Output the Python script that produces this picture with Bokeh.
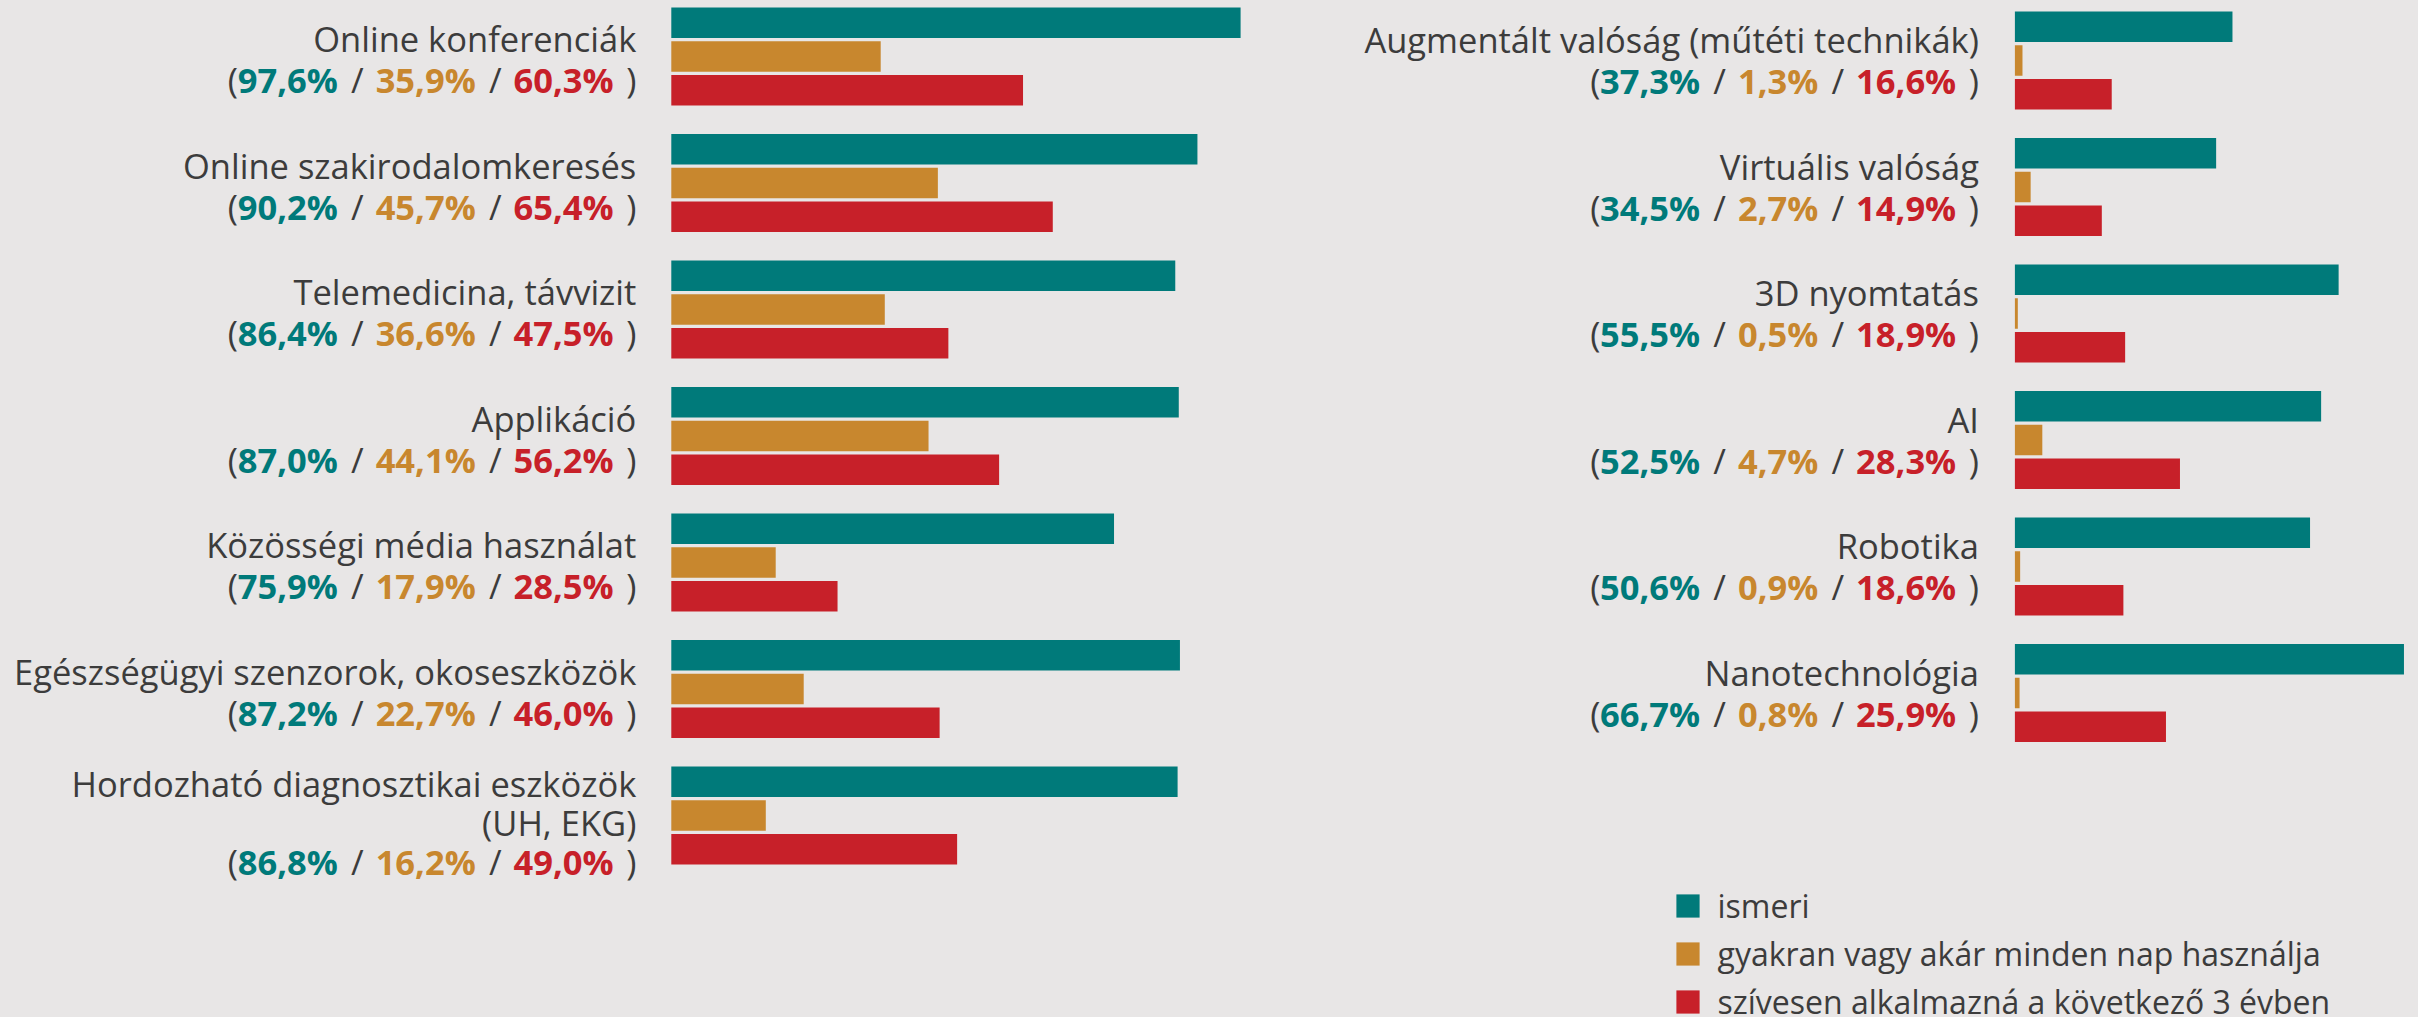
import numpy as np
from bokeh.plotting import figure
from bokeh.models import Range1d, ColumnDataSource, Legend, LegendItem
from bokeh.core.properties import value
from bokeh.embed import file_html
from bokeh.resources import INLINE

# ---------------- data ----------------
left_cats = [
    "Online konferenciák",
    "Online szakirodalomkeresés",
    "Telemedicina, távvizit",
    "Applikáció",
    "Közösségi média használat",
    "Egészségügyi szenzorok, okoseszközök",
    "Hordozható diagnosztikai eszközök\n(UH, EKG)",
]
left_known = [97.6, 90.2, 86.4, 87.0, 75.9, 87.2, 86.8]
left_daily = [35.9, 45.7, 36.6, 44.1, 17.9, 22.7, 16.2]
left_future = [60.3, 65.4, 47.5, 56.2, 28.5, 46.0, 49.0]

right_cats = [
    "Augmentált valóság (műtéti technikák)",
    "Virtuális valóság",
    "3D nyomtatás",
    "AI",
    "Robotika",
    "Nanotechnológia",
]
right_known = [37.3, 34.5, 55.5, 52.5, 50.6, 66.7]
right_daily = [1.3, 2.7, 0.5, 4.7, 0.9, 0.8]
right_future = [16.6, 14.9, 18.9, 28.3, 18.6, 25.9]

series_labels = [
    "ismeri",
    "gyakran vagy akár minden nap használja",
    "szívesen alkalmazná a következő 3 évben",
]

# ---------------- style ----------------
BG = "#e8e6e6"
TEAL = "#007a7a"
ORANGE = "#c8872e"
RED = "#c72029"
GRAY = "#3c3c3c"
FONT = "Open Sans"
FS = 34.5        # px, label font size
FS_LEG = 32

W, H = 2418, 1017
SX = 5.833       # px per percent
PY = 126.5       # px per row
L_X0, R_X0 = 670.8, 2014.4   # bar origins (px)
L_Y0, R_Y0 = 56.0, 60.0      # centre of first group (px)
TEXT_SHIFT = -12.0           # px, vertical correction of text baselines

p = figure(width=W, height=H, output_backend="svg", toolbar_location=None,
           x_range=Range1d(-L_X0 / SX, (W - L_X0) / SX),
           y_range=Range1d((H - L_Y0) / PY, -L_Y0 / PY),
           x_axis_location=None, y_axis_location=None, min_border=0)
p.extra_x_ranges = {"r": Range1d(-R_X0 / SX, (W - R_X0) / SX)}
p.extra_y_ranges = {"r": Range1d((H - R_Y0) / PY, -R_Y0 / PY)}
p.grid.visible = False
p.outline_line_color = None
p.background_fill_color = BG
p.border_fill_color = BG

BAR_H = 30.5 / PY
DODGE = 33.8 / PY

# approx. Open Sans Bold advance widths (em)
CW = {",": 0.27, "%": 0.88}


def num_w(s):
    return sum(CW.get(ch, 0.572) for ch in s) * FS


def fmt(v):
    return f"{v:.1f}".replace(".", ",") + "%"


panels = [
    dict(cats=left_cats, vals=(left_known, left_daily, left_future), xr="default", yr="default",
         edge=-35.0, off=14.5 + TEXT_SHIFT),
    dict(cats=right_cats, vals=(right_known, right_daily, right_future), xr="r", yr="r",
         edge=-36.0, off=11.5 + TEXT_SHIFT),
]

colors = [TEAL, ORANGE, RED]
dodges = [-DODGE, 0.0, DODGE]
legend_renderers = []

for pi, pan in enumerate(panels):
    idx = np.arange(len(pan["cats"]))
    for si, (vals, col, dg) in enumerate(zip(pan["vals"], colors, dodges)):
        r = p.hbar(y=idx + dg, left=0, right=vals, height=BAR_H, fill_color=col,
                   line_color=None, x_range_name=pan["xr"], y_range_name=pan["yr"])
        if pi == 0:
            legend_renderers.append(r)

    name_x, name_y, name_t = [], [], []
    num_x, num_y, num_t, num_c = [], [], [], []
    pun_x, pun_y, pun_t, pun_a = [], [], [], []
    edge = pan["edge"]
    for i, cat in enumerate(pan["cats"]):
        lines = cat.split("\n")
        L = len(lines) + 1
        LS = 41.0 if L == 2 else 38.9
        off = pan["off"] + (L - 2) * 4.4
        bases = [off + (k - (L - 1) / 2) * LS for k in range(L)]
        for k, ln in enumerate(lines):
            name_x.append(edge / SX)
            name_y.append(i + bases[k] / PY)
            name_t.append(ln)
        yb = i + bases[-1] / PY
        t1, t2, t3 = (fmt(v[i]) for v in pan["vals"])
        red_r = edge - 22.7
        red_l = red_r - num_w(t3)
        or_r = red_l - 39.0
        or_l = or_r - num_w(t2)
        te_r = or_l - 39.0
        te_l = te_r - num_w(t1)
        for xx, tt, cc in ((te_r, t1, TEAL), (or_r, t2, ORANGE), (red_r, t3, RED)):
            num_x.append(xx / SX); num_y.append(yb); num_t.append(tt); num_c.append(cc)
        for xx, tt, aa in ((te_l - 1.0, "(", "right"), ((te_r + or_l) / 2, "/", "center"),
                           ((or_r + red_l) / 2, "/", "center"), (edge, ")", "right")):
            pun_x.append(xx / SX); pun_y.append(yb); pun_t.append(tt); pun_a.append(aa)

    p.text(x=name_x, y=name_y, text=name_t, text_font=value(FONT), text_font_size=f"{FS}px",
           text_color=GRAY, text_align="right", text_baseline="alphabetic",
           x_range_name=pan["xr"], y_range_name=pan["yr"])
    src = ColumnDataSource(dict(x=num_x, y=num_y, t=num_t, c=num_c))
    p.text(x="x", y="y", text="t", text_color="c", source=src, text_font=value(FONT),
           text_font_size=f"{FS}px", text_font_style="bold", text_align="right",
           text_baseline="alphabetic", x_range_name=pan["xr"], y_range_name=pan["yr"])
    src2 = ColumnDataSource(dict(x=pun_x, y=pun_y, t=pun_t, a=pun_a))
    p.text(x="x", y="y", text="t", text_align="a", source=src2, text_font=value(FONT),
           text_font_size=f"{FS}px", text_color=GRAY, text_baseline="alphabetic",
           x_range_name=pan["xr"], y_range_name=pan["yr"])

legend = Legend(
    items=[LegendItem(label=lab, renderers=[r]) for lab, r in zip(series_labels, legend_renderers)],
    location=(1672.5, -6.0), orientation="vertical",
    glyph_width=29, glyph_height=29, label_height=29, label_standoff=16, spacing=5,
    padding=0, margin=0, background_fill_alpha=0, border_line_color=None,
    label_text_font=FONT, label_text_font_size=f"{FS_LEG}px", label_text_color=GRAY,
    label_text_baseline="middle",
)
p.add_layout(legend)

html = file_html(p, INLINE)
html = html.replace("</head>",
                    f"<style>html,body{{background:{BG};overflow:hidden;}}</style></head>", 1)
open("out.html", "w").write(html)
